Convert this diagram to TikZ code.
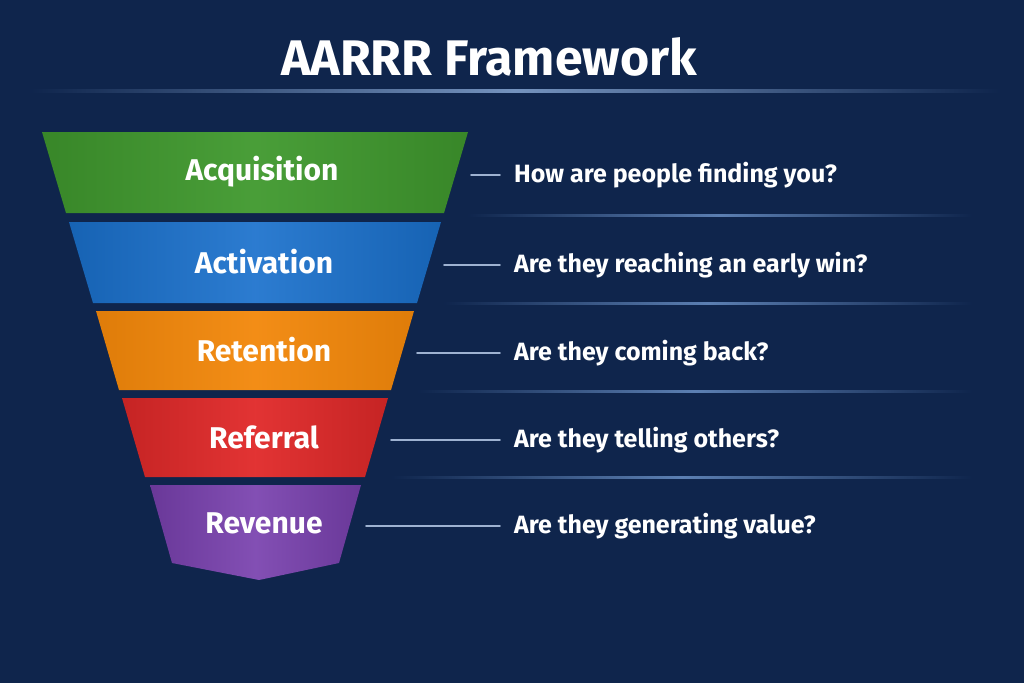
\documentclass[tikz,border=0pt]{standalone}
\usepackage{fontspec}
\usepackage{tikz}
\setmainfont{Fira Sans}
\usetikzlibrary{calc}
\definecolor{navybg}{rgb}{0.058,0.145,0.300}
\definecolor{rulebl}{rgb}{0.36,0.50,0.70}
\definecolor{linkbl}{rgb}{0.62,0.70,0.82}
\definecolor{acqgreen}{rgb}{0.25,0.60,0.18}
\definecolor{actblue}{rgb}{0.10,0.44,0.80}
\definecolor{retorange}{rgb}{0.95,0.53,0.04}
\definecolor{refred}{rgb}{0.88,0.16,0.16}
\definecolor{revpurple}{rgb}{0.47,0.25,0.68}
\tikzset{
  bandlabel/.style={text=white,font=\fontsize{30}{34}\selectfont\bfseries},
  question/.style={text=white,anchor=west,inner sep=0pt,font=\fontsize{25}{30}\selectfont\bfseries},
  link/.style={draw=linkbl,line width=1.6pt}
}

\begin{document}
\begin{tikzpicture}[line cap=round,line join=round,x=1pt,y=-1pt]
\useasboundingbox (0,0) rectangle (1024,683);
\fill[navybg] (0,0) rectangle (1024,683);
% title and its rule
\node[text=white,font=\fontsize{50}{56}\selectfont\bfseries] (title) at (489,57) {AARRR Framework};
\shade[left color=navybg,right color=navybg,middle color=rulebl!85!white] (30,89) rectangle (1000,92);
% row rules
\shade[left color=navybg,right color=navybg,middle color=rulebl] (468,214) rectangle (972,216);
\shade[left color=navybg,right color=navybg,middle color=rulebl] (444,302) rectangle (972,304);
\shade[left color=navybg,right color=navybg,middle color=rulebl] (418,390) rectangle (972,392);
\shade[left color=navybg,right color=navybg,middle color=rulebl] (392,476) rectangle (972,478);
% funnel bands
\shade[left color=acqgreen!88!black,right color=acqgreen!88!black,middle color=acqgreen!95!white] (42,132) -- (468,132) -- (444,213) -- (66,213) -- cycle;
\shade[left color=actblue!88!black,right color=actblue!88!black,middle color=actblue!92!white] (69,222) -- (441,222) -- (417,303) -- (93,303) -- cycle;
\shade[left color=retorange!92!black,right color=retorange!92!black,middle color=retorange!95!white] (96,311) -- (414,311) -- (391,390) -- (119,390) -- cycle;
\shade[left color=refred!88!black,right color=refred!88!black,middle color=refred!95!white] (122,398) -- (388,398) -- (365,477) -- (145,477) -- cycle;
\shade[left color=revpurple!88!black,right color=revpurple!88!black,middle color=revpurple!92!white] (150,485) -- (361,485) -- (339,563) -- (259,580) -- (172,563) -- cycle;
% band labels
\node[bandlabel] (acq) at (262,172) {Acquisition};
\node[bandlabel] (act) at (264,262) {Activation};
\node[bandlabel] (ret) at (264,350) {Retention};
\node[bandlabel] (ref) at (264,437) {Referral};
\node[bandlabel] (rev) at (264,523) {Revenue};
% questions
\node[question] (q1) at (514,175) {How are people finding you?};
\node[question] (q2) at (514,265) {Are they reaching an early win?};
\node[question] (q3) at (514,353) {Are they coming back?};
\node[question] (q4) at (514,440) {Are they telling others?};
\node[question] (q5) at (514,526) {Are they generating value?};
% connectors
\coordinate (acq-e) at (471,175);
\coordinate (act-e) at (444,265);
\coordinate (ret-e) at (417,353);
\coordinate (ref-e) at (391,440);
\coordinate (rev-e) at (366,526);
\draw[link] (acq-e) -- ([xshift=-14pt]q1.west);
\draw[link] (act-e) -- ([xshift=-14pt]q2.west);
\draw[link] (ret-e) -- ([xshift=-14pt]q3.west);
\draw[link] (ref-e) -- ([xshift=-14pt]q4.west);
\draw[link] (rev-e) -- ([xshift=-14pt]q5.west);
\end{tikzpicture}
\end{document}
